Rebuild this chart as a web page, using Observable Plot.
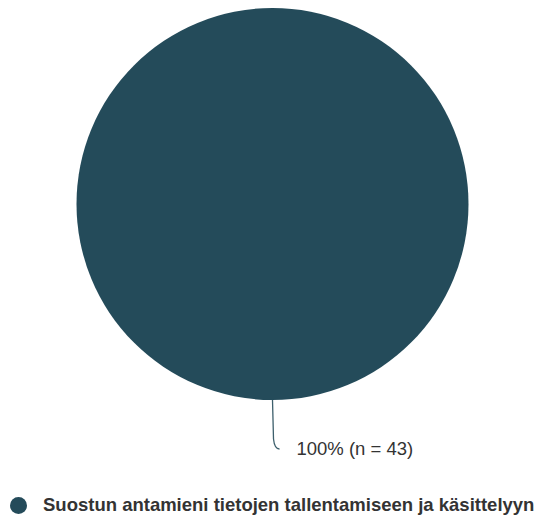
<!DOCTYPE html>
<html>
<head>
<meta charset="utf-8">
<script src="https://cdn.jsdelivr.net/npm/d3@7"></script>
<script src="https://cdn.jsdelivr.net/npm/@observablehq/plot@0.6"></script>
<style>
  html, body { margin: 0; padding: 0; background: #fff; }
  #chart svg { display: block; }
  .legend { display: flex; align-items: center; margin: 0 0 0 10px; height: 30px;
    font-family: "Liberation Sans", Arial, sans-serif; font-weight: bold; font-size: 18.5px; color: #333; }
  .legend .sw { width: 17px; height: 17px; border-radius: 50%; margin-right: 16px; flex: none; }
</style>
</head>
<body>
<div id="chart"></div>
<script>
// Survey answers: one category, count of respondents
const categories = ["Suostun antamieni tietojen tallentamiseen ja käsittelyyn"];
const counts = [43];
const colors = ["#244b5a"];

const data = categories.map((c, i) => ({category: c, n: counts[i], color: colors[i]}));
const total = d3.sum(data, d => d.n);

// Pie slices drawn through the plot's x/y scales (unit circle in data space)
function pieMark(index, scales) {
  const cx = scales.x(0), cy = scales.y(0), r = scales.x(1) - scales.x(0);
  const arcs = d3.pie().sort(null).value(d => d.n)(data);
  const arc = d3.arc().innerRadius(0).outerRadius(r);
  const g = d3.create("svg:g").attr("transform", `translate(${cx},${cy})`);
  g.selectAll("path").data(arcs).join("path")
    .attr("d", arc).attr("fill", d => d.data.color);
  // leader lines and labels
  arcs.forEach(a => {
    const mid = (a.startAngle + a.endAngle) / 2;
    const sx = Math.sin(mid) * r, sy = -Math.cos(mid) * r;
    const ex = sx + 7, ey = sy + 49;
    g.append("path")
      .attr("d", `M${sx},${sy} L${sx + 1},${ey - 10} Q${sx + 2},${ey} ${ex},${ey}`)
      .attr("fill", "none").attr("stroke", "#3d5f6c").attr("stroke-width", 1.3);
    const pct = Math.round(a.data.n / total * 100);
    g.append("text")
      .attr("x", ex + 17).attr("y", ey).attr("dy", "0.35em")
      .attr("text-anchor", "start")
      .attr("font-family", "Liberation Sans, Arial, sans-serif")
      .attr("font-size", 18.5).attr("fill", "#333")
      .text(`${pct}% (n = ${a.data.n})`);
  });
  return g.node();
}

const chart = Plot.plot({
  width: 538,
  height: 490,
  marginLeft: 76.5,
  marginRight: 69.5,
  marginTop: 8,
  marginBottom: 90,
  x: {domain: [-1, 1], axis: null},
  y: {domain: [-1, 1], axis: null},
  marks: [pieMark]
});
document.getElementById("chart").append(chart);

// Legend below the chart
const legend = d3.select("body").append("div").attr("class", "legend");
data.forEach(d => {
  legend.append("span").attr("class", "sw").style("background", d.color);
  legend.append("span").text(d.category);
});
</script>
</body>
</html>
